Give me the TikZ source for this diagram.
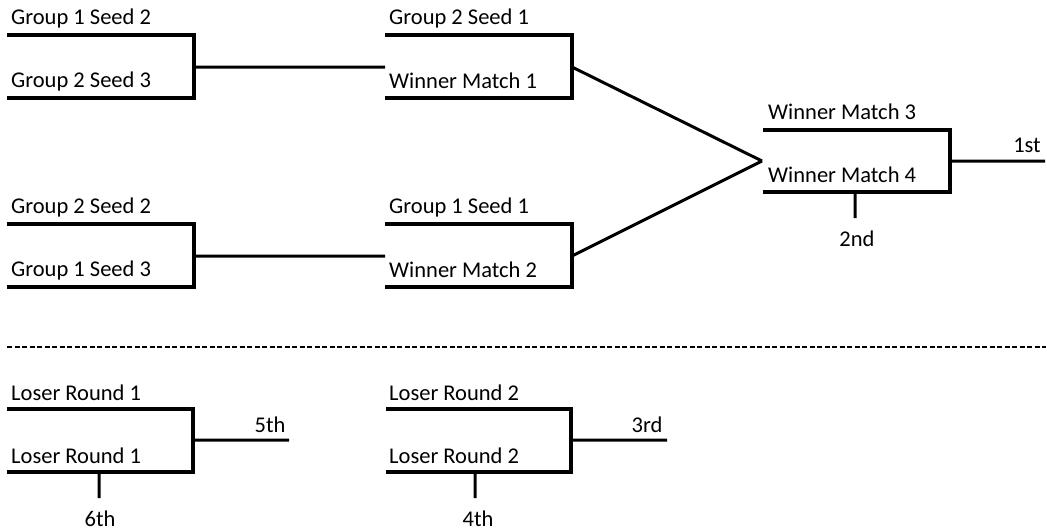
\documentclass[tikz,border=0pt]{standalone}
\usepackage{fontspec}
\setmainfont{Carlito}
\usepackage{tikz}

\begin{document}
\begin{tikzpicture}[x=1pt,y=-1pt,line join=miter]
\useasboundingbox (0,0) rectangle (1047,531);
\tikzset{lbl/.style={anchor=west,inner sep=0pt,font=\fontsize{22.5}{27}\selectfont},
         place/.style={inner sep=0pt,font=\fontsize{22.5}{27}\selectfont}}
% winner side
\coordinate (m1a) at (7,35);   \coordinate (m1b) at (194,35);
\coordinate (m1c) at (194,98); \coordinate (m1d) at (7,98);
\coordinate (m1o) at (194,67);
\coordinate (m2a) at (7,224);   \coordinate (m2b) at (194,224);
\coordinate (m2c) at (194,287); \coordinate (m2d) at (7,287);
\coordinate (m2o) at (194,256);
\coordinate (m3a) at (385,35);   \coordinate (m3b) at (572,35);
\coordinate (m3c) at (572,98);   \coordinate (m3d) at (385,98);
\coordinate (m3i) at (385,67);   \coordinate (m3o) at (572,67);
\coordinate (m4a) at (385,224);  \coordinate (m4b) at (572,224);
\coordinate (m4c) at (572,287);  \coordinate (m4d) at (385,287);
\coordinate (m4i) at (385,256);  \coordinate (m4o) at (572,256);
\coordinate (fa) at (763,130);  \coordinate (fb) at (950,130);
\coordinate (fc) at (950,192);  \coordinate (fd) at (763,192);
\coordinate (fi) at (762,161);  \coordinate (fo) at (950,161);
\coordinate (first) at (1045,161);
\coordinate (fs) at (855,192);  \coordinate (second) at (855,218);
% loser side
\coordinate (l1a) at (7,409);   \coordinate (l1b) at (193,409);
\coordinate (l1c) at (193,472); \coordinate (l1d) at (7,472);
\coordinate (l1o) at (193,440); \coordinate (fifth) at (289,440);
\coordinate (l1s) at (99,472);  \coordinate (sixth) at (99,498);
\coordinate (l2a) at (386,409);  \coordinate (l2b) at (571,409);
\coordinate (l2c) at (571,472);  \coordinate (l2d) at (386,472);
\coordinate (l2o) at (571,440);  \coordinate (third) at (667,440);
\coordinate (l2s) at (475,472);  \coordinate (fourth) at (475,498);
\coordinate (sepl) at (7,347);  \coordinate (sepr) at (1046,347);

\draw[line width=4pt] (m1a)--(m1b)--(m1c)--(m1d) (m2a)--(m2b)--(m2c)--(m2d)
  (m3a)--(m3b)--(m3c)--(m3d) (m4a)--(m4b)--(m4c)--(m4d) (fa)--(fb)--(fc)--(fd)
  (l1a)--(l1b)--(l1c)--(l1d) (l2a)--(l2b)--(l2c)--(l2d);
\draw[line width=3pt] (m1o)--(m3i) (m2o)--(m4i) (m3o)--(fi) (m4o)--(fi) (fo)--(first)
  (fs)--(second) (l1o)--(fifth) (l1s)--(sixth) (l2o)--(third) (l2s)--(fourth);
\draw[line width=2pt, dash pattern=on 5pt off 2.5pt] (sepl)--(sepr);

\node (g12) at (11,18) [lbl] {Group 1 Seed 2};
\node (g23) at (11,81) [lbl] {Group 2 Seed 3};
\node (g22) at (11,207) [lbl] {Group 2 Seed 2};
\node (g13) at (11,270) [lbl] {Group 1 Seed 3};
\node (g21) at (389,18) [lbl] {Group 2 Seed 1};
\node (w1) at (389,81) [lbl] {Winner Match 1};
\node (g11) at (389,207) [lbl] {Group 1 Seed 1};
\node (w2) at (389,270) [lbl] {Winner Match 2};
\node (w3) at (768,112) [lbl] {Winner Match 3};
\node (w4) at (768,175) [lbl] {Winner Match 4};
\node (r1a) at (11,393) [lbl] {Loser Round 1};
\node (r1b) at (11,456) [lbl] {Loser Round 1};
\node (r2a) at (389,393) [lbl] {Loser Round 2};
\node (r2b) at (389,456) [lbl] {Loser Round 2};
\node (p1) at (1027,145) [place] {1st};
\node (p2) at (857,239) [place] {2nd};
\node (p3) at (647,425) [place] {3rd};
\node (p4) at (478,519) [place] {4th};
\node (p5) at (270,425) [place] {5th};
\node (p6) at (100,519) [place] {6th};
\end{tikzpicture}
\end{document}
